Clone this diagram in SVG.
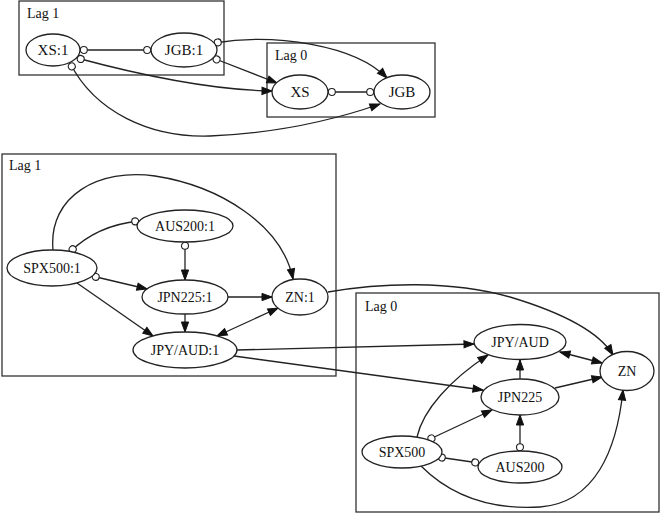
<svg xmlns="http://www.w3.org/2000/svg" width="661" height="515" viewBox="0 0 661 515">
<style>
.bg{fill:#ffffff}
.cl{fill:none;stroke:#333333;stroke-width:1.3}
.nd{fill:#ffffff;stroke:#222222;stroke-width:1.3}
.e{fill:none;stroke:#222222;stroke-width:1.3}
.a{marker-end:url(#arr)}
.ba{marker-start:url(#arr);marker-end:url(#arr)}
.oa{marker-start:url(#odot);marker-end:url(#arr)}
.oo{marker-start:url(#odot);marker-end:url(#odot)}
text{font-family:"Liberation Serif","Times New Roman",serif;fill:#111111}
.t{font-size:14px;text-anchor:middle}
.tt{font-size:15px;text-anchor:middle}
.lb{font-size:14px}
</style>
<defs>
<marker id="arr" markerUnits="userSpaceOnUse" viewBox="-11 -5 12 10" refX="0" refY="0" markerWidth="12" markerHeight="10" orient="auto-start-reverse" overflow="visible">
<path d="M-10,-3.6 L0,0 L-10,3.6 z" fill="#111111" stroke="#111111" stroke-width="1"/>
</marker>
<marker id="odot" markerUnits="userSpaceOnUse" viewBox="-10 -5 11 10" refX="0" refY="0" markerWidth="11" markerHeight="10" orient="auto-start-reverse" overflow="visible">
<circle cx="-3.8" cy="0" r="3.5" fill="#ffffff" stroke="#222222" stroke-width="1.1"/>
</marker>
</defs>
<rect class="bg" x="0" y="0" width="661" height="515"/>

<g id="cluster_top_lag1">
<rect class="cl" x="19" y="1" width="205" height="74"/>
<text class="lb" x="27" y="18">Lag 1</text>
</g>
<g id="cluster_top_lag0">
<rect class="cl" x="267" y="43" width="168" height="74"/>
<text class="lb" x="275" y="60">Lag 0</text>
</g>
<g id="cluster_mid_lag1">
<rect class="cl" x="2" y="154" width="334" height="222"/>
<text class="lb" x="9" y="170">Lag 1</text>
</g>
<g id="cluster_bot_lag0">
<rect class="cl" x="356" y="293" width="303" height="219"/>
<text class="lb" x="365" y="311">Lag 0</text>
</g>

<g id="connectors">
<path class="e oo" d="M80,50 L151,50"/>
<path class="e oa" d="M214,43 C275,33 355,45 387,78"/>
<path class="e oa" d="M213,58 L277,83"/>
<path class="e oa" d="M77,58 C140,75 210,90 272,91"/>
<path class="e oa" d="M70,63 C95,112 150,138 210,136 C280,133 340,118 380,104"/>
<path class="e oo" d="M328,92 L374,92"/>

<path class="e a" d="M53,250 C48,195 100,168 155,176 C220,186 282,225 293,279"/>
<path class="e oo" d="M70,252 C88,234 110,224 139,221"/>
<path class="e oa" d="M185,242 L185,280"/>
<path class="e oa" d="M92,276 L147,289"/>
<path class="e a" d="M77,283 L153,336"/>
<path class="e a" d="M228,297 L272,297"/>
<path class="e a" d="M185,314 L185,332"/>
<path class="e ba" d="M278,308 L217,336"/>
<path class="e a" d="M328,292 C380,283 450,280 510,297 C560,312 598,330 613,355"/>
<path class="e a" d="M237,350 L474,344"/>
<path class="e a" d="M234,356 L483,390"/>

<path class="e a" d="M520,379 L520,360"/>
<path class="e ba" d="M560,352 L602,363"/>
<path class="e a" d="M555,388 L602,377"/>
<path class="e a" d="M417,437 C423,410 450,380 488,355"/>
<path class="e oa" d="M428,440 L492,410"/>
<path class="e oo" d="M438,457 L479,463"/>
<path class="e oa" d="M520,451 L520,415"/>
<path class="e a" d="M421,466 C450,495 490,510 540,507 C595,503 617,450 623,390"/>
</g>

<g id="node_XS1"><ellipse class="nd" cx="53" cy="50" rx="27" ry="16"/><text class="tt" x="53" y="55">XS:1</text></g>
<g id="node_JGB1"><ellipse class="nd" cx="184" cy="50" rx="33" ry="17"/><text class="tt" x="184" y="55">JGB:1</text></g>
<g id="node_XS"><ellipse class="nd" cx="300" cy="92" rx="28" ry="17"/><text class="tt" x="300" y="97">XS</text></g>
<g id="node_JGB"><ellipse class="nd" cx="402" cy="92" rx="28" ry="17"/><text class="tt" x="402" y="97">JGB</text></g>

<g id="node_SPX500_1"><ellipse class="nd" cx="52" cy="268" rx="45" ry="18"/><text class="t" x="52" y="273">SPX500:1</text></g>
<g id="node_AUS200_1"><ellipse class="nd" cx="185" cy="226" rx="48" ry="16"/><text class="t" x="185" y="231">AUS200:1</text></g>
<g id="node_JPN225_1"><ellipse class="nd" cx="185" cy="297" rx="43" ry="17"/><text class="t" x="185" y="302">JPN225:1</text></g>
<g id="node_ZN_1"><ellipse class="nd" cx="300" cy="297" rx="28" ry="18"/><text class="t" x="300" y="302">ZN:1</text></g>
<g id="node_JPYAUD_1"><ellipse class="nd" cx="185" cy="350" rx="52" ry="18"/><text class="t" x="185" y="355">JPY/AUD:1</text></g>

<g id="node_JPYAUD"><ellipse class="nd" cx="520" cy="342" rx="46" ry="17.5"/><text class="t" x="520" y="347">JPY/AUD</text></g>
<g id="node_ZN"><ellipse class="nd" cx="627" cy="371" rx="27" ry="19.5"/><text class="t" x="627" y="376">ZN</text></g>
<g id="node_JPN225"><ellipse class="nd" cx="520" cy="397" rx="39" ry="18"/><text class="t" x="520" y="402">JPN225</text></g>
<g id="node_SPX500"><ellipse class="nd" cx="402" cy="452" rx="40" ry="16"/><text class="t" x="402" y="457">SPX500</text></g>
<g id="node_AUS200"><ellipse class="nd" cx="520" cy="467" rx="42" ry="16"/><text class="t" x="520" y="472">AUS200</text></g>
</svg>
